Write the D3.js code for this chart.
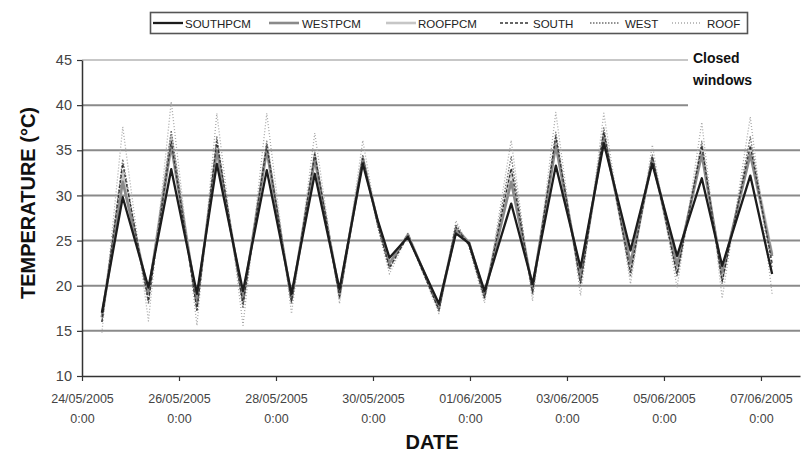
<!DOCTYPE html>
<html>
<head>
<meta charset="utf-8">
<script src="https://cdn.jsdelivr.net/npm/d3@7"></script>
<style>
  html, body { margin: 0; padding: 0; background: #fff; }
  svg { display: block; font-family: "Liberation Sans", Arial, sans-serif; }
</style>
</head>
<body>
<svg id="chart" width="802" height="459"></svg>
<script>
// ---- data ----
// time of each key point, in days after 24/05/2005 0:00
const days = [0.41, 0.84, 1.37, 1.84, 2.37, 2.78, 3.32, 3.81, 4.32, 4.80, 5.31, 5.79, 6.10, 6.34, 6.72, 7.36, 7.71, 7.98, 8.30, 8.85, 9.29, 9.77, 10.28, 10.76, 11.31, 11.76, 12.27, 12.78, 13.20, 13.78, 14.23];
const southPCM = [17.0, 29.8, 19.8, 32.9, 19.1, 33.5, 19.4, 32.8, 19.1, 32.4, 19.6, 33.5, 27.2, 23.1, 25.4, 18.0, 25.8, 24.7, 19.4, 29.1, 20.2, 33.3, 22.0, 35.8, 23.9, 33.5, 23.3, 31.9, 22.2, 32.2, 21.3];
const westPCM  = [16.5, 31.5, 19.2, 35.5, 18.2, 35.0, 18.5, 35.0, 18.5, 34.0, 19.2, 34.0, 27.0, 22.5, 25.6, 17.6, 26.2, 24.8, 19.0, 31.5, 19.8, 35.5, 21.0, 36.5, 22.5, 34.0, 22.3, 34.5, 21.5, 34.5, 23.3];
const roofPCM  = [16.5, 32.5, 19.0, 36.5, 18.0, 35.5, 18.3, 35.5, 18.4, 34.5, 19.0, 34.2, 27.0, 22.3, 25.7, 17.6, 26.4, 24.8, 18.9, 32.8, 19.6, 36.1, 20.6, 36.9, 21.7, 34.1, 21.5, 35.4, 20.8, 35.4, 23.5];
const south    = [16.0, 33.5, 18.3, 36.0, 17.3, 36.0, 18.0, 35.5, 18.3, 34.6, 18.8, 34.1, 26.8, 22.0, 25.5, 17.3, 26.5, 24.5, 18.7, 33.0, 19.3, 36.5, 20.3, 37.0, 21.5, 34.3, 21.3, 35.5, 20.5, 35.5, 22.5];
const west     = [16.0, 34.0, 18.0, 37.2, 17.2, 36.5, 17.5, 36.0, 18.0, 34.8, 18.5, 34.5, 26.5, 21.8, 25.8, 17.2, 26.8, 24.5, 18.5, 34.3, 19.0, 37.0, 20.0, 37.5, 21.0, 34.5, 21.0, 36.0, 20.2, 36.5, 22.0];
const roof     = [14.8, 37.6, 16.1, 40.4, 15.6, 39.1, 15.6, 39.1, 16.9, 36.9, 18.0, 36.1, 26.5, 21.3, 25.7, 16.9, 27.2, 24.3, 18.1, 36.1, 18.3, 39.2, 18.9, 39.1, 20.2, 35.6, 19.8, 38.1, 18.6, 38.7, 19.1];

const seriesNames = ["SOUTHPCM", "WESTPCM", "ROOFPCM", "SOUTH", "WEST", "ROOF"];
const seriesValues = [southPCM, westPCM, roofPCM, south, west, roof];
const yTicks = [10, 15, 20, 25, 30, 35, 40, 45];
const xTickDays = [0, 2, 4, 6, 8, 10, 12, 14];

// ---- styles ----
const styles = {
  SOUTHPCM: { stroke: "#1c1c1c", width: 2.3, dash: null },
  WESTPCM:  { stroke: "#8a8a8a", width: 2.6, dash: null },
  ROOFPCM:  { stroke: "#c6c6c6", width: 2.6, dash: null },
  SOUTH:    { stroke: "#333333", width: 1.3, dash: "3,2" },
  WEST:     { stroke: "#6e6e6e", width: 1.3, dash: "1.5,1.5" },
  ROOF:     { stroke: "#a8a8a8", width: 1.3, dash: "1,2" }
};

const svg = d3.select("#chart");
const start = new Date(2005, 4, 24, 0, 0);
const dayMs = 24 * 3600 * 1000;
const toDate = d => new Date(start.getTime() + d * dayMs);

const mLeft = 82, mRight = 800, mTop = 60, mBottom = 376;
const x = d3.scaleTime().domain([start, toDate(14.805)]).range([mLeft, mRight]);
const y = d3.scaleLinear().domain([10, 45]).range([mBottom, mTop]);

// gridlines
const grid = svg.append("g");
yTicks.filter(v => v > 10).forEach(v => {
  const x2 = v >= 40 ? 688 : mRight;
  grid.append("line")
    .attr("x1", mLeft).attr("x2", x2)
    .attr("y1", y(v)).attr("y2", y(v))
    .attr("stroke", v === 45 ? "#b5b5b5" : "#8a8a8a")
    .attr("stroke-width", v === 45 ? 1.5 : 2);
});

// axes
const yAxis = d3.axisLeft(y).tickValues(yTicks).tickSize(5).tickSizeOuter(0).tickFormat(d3.format("d"));
const gy = svg.append("g").attr("transform", `translate(${mLeft},0)`).call(yAxis);
gy.select(".domain").attr("stroke", "#333").attr("stroke-width", 1.5);
gy.selectAll(".tick line").attr("stroke", "#333").attr("stroke-width", 1.2);
gy.selectAll(".tick text").attr("font-size", 14.5).attr("fill", "#444")
  .attr("font-family", "'Liberation Sans', Arial, sans-serif").attr("x", -10);

const xAxis = d3.axisBottom(x).tickValues(xTickDays.map(toDate)).tickSize(5).tickSizeOuter(0).tickFormat(() => "");
const gx = svg.append("g").attr("transform", `translate(0,${mBottom})`).call(xAxis);
gx.select(".domain").attr("stroke", "#333").attr("stroke-width", 1.5);
gx.selectAll(".tick line").attr("stroke", "#333").attr("stroke-width", 1.2);
const fmt = d3.timeFormat("%d/%m/%Y");
gx.selectAll(".tick").each(function(d) {
  const t = d3.select(this).select("text");
  t.text(null).attr("y", 0).attr("dy", null)
    .attr("font-size", 12.5).attr("fill", "#444")
    .attr("font-family", "'Liberation Sans', Arial, sans-serif");
  t.append("tspan").attr("x", 0).attr("y", 27).text(fmt(d));
  t.append("tspan").attr("x", 0).attr("y", 47).text(d3.timeFormat("%-H:%M")(d));
});

// axis titles
svg.append("text").attr("x", 432).attr("y", 449).attr("text-anchor", "middle")
  .attr("font-size", 20).attr("font-weight", "bold").attr("fill", "#111").text("DATE");
svg.append("text").attr("transform", "translate(35,203) rotate(-90)").attr("text-anchor", "middle")
  .attr("font-size", 20).attr("font-weight", "bold").attr("fill", "#111").text("TEMPERATURE (°C)");

// annotation
svg.append("text").attr("x", 693).attr("y", 63).attr("font-size", 14).attr("font-weight", "bold").attr("fill", "#111").text("Closed");
svg.append("text").attr("x", 693).attr("y", 85).attr("font-size", 14).attr("font-weight", "bold").attr("fill", "#111").text("windows");

// lines
const line = d3.line().x(d => x(toDate(d[0]))).y(d => y(d[1])).curve(d3.curveLinear);
const drawOrder = ["ROOFPCM", "WESTPCM", "ROOF", "WEST", "SOUTH", "SOUTHPCM"];
drawOrder.forEach(name => {
  const vals = seriesValues[seriesNames.indexOf(name)];
  const st = styles[name];
  svg.append("path")
    .datum(days.map((d, i) => [d, vals[i]]))
    .attr("fill", "none")
    .attr("stroke", st.stroke)
    .attr("stroke-width", st.width)
    .attr("stroke-dasharray", st.dash)
    .attr("stroke-linejoin", "round")
    .attr("d", line);
});

// legend
const lg = svg.append("g");
lg.append("rect").attr("x", 150.5).attr("y", 12.5).attr("width", 597).attr("height", 21)
  .attr("fill", "#fff").attr("stroke", "#555").attr("stroke-width", 1.6);
const itemX = [153, 269, 386, 500, 590, 672];
const textX = [185, 302, 418, 533, 625, 707];
seriesNames.forEach((name, i) => {
  const st = styles[name];
  lg.append("line").attr("x1", itemX[i]).attr("x2", itemX[i] + 30)
    .attr("y1", 23).attr("y2", 23)
    .attr("stroke", st.stroke).attr("stroke-width", st.width)
    .attr("stroke-dasharray", st.dash);
  lg.append("text").attr("x", textX[i]).attr("y", 27.5)
    .attr("font-size", 11.5).attr("fill", "#222")
    .attr("font-family", "'Liberation Sans Narrow', 'Liberation Sans', Arial, sans-serif")
    .text(name);
});
</script>
</body>
</html>
